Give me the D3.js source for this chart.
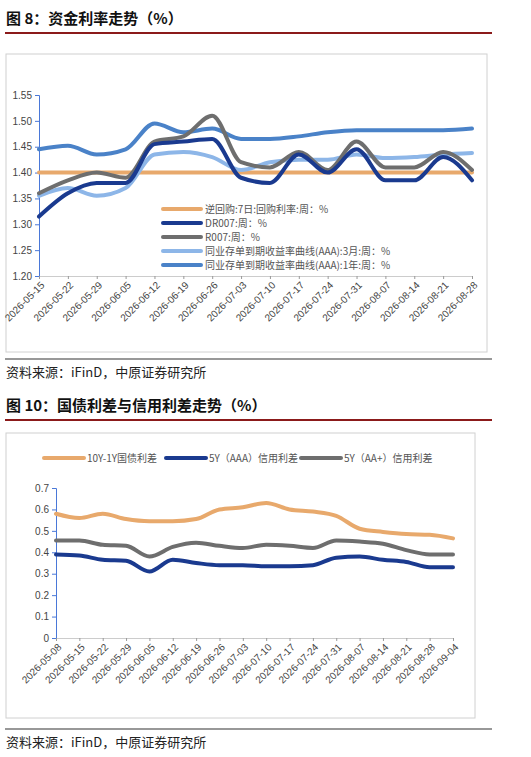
<!DOCTYPE html><html><head><meta charset="utf-8"><script src="https://cdn.jsdelivr.net/npm/d3@7"></script>
<style>body{margin:0;background:#fff;font-family:"Noto Sans CJK SC","Noto Sans",sans-serif}</style></head><body><svg id="s" width="531" height="757"></svg><script>
const dates1=["2026-05-15","2026-05-22","2026-05-29","2026-06-05","2026-06-12","2026-06-19","2026-06-26","2026-07-03","2026-07-10","2026-07-17","2026-07-24","2026-07-31","2026-08-07","2026-08-14","2026-08-21","2026-08-28"];
const revRepo=[1.40,1.40,1.40,1.40,1.40,1.40,1.40,1.40,1.40,1.40,1.40,1.40,1.40,1.40,1.40,1.40];
const dr007=[1.315,1.36,1.38,1.38,1.455,1.46,1.465,1.39,1.38,1.435,1.40,1.445,1.385,1.385,1.43,1.385];
const r007=[1.36,1.385,1.40,1.39,1.46,1.47,1.51,1.42,1.41,1.44,1.405,1.46,1.41,1.41,1.44,1.405];
const cd3m=[1.355,1.37,1.355,1.37,1.435,1.44,1.43,1.405,1.42,1.425,1.425,1.435,1.428,1.43,1.435,1.438];
const cd1y=[1.445,1.452,1.435,1.445,1.495,1.478,1.485,1.465,1.465,1.47,1.478,1.482,1.482,1.482,1.482,1.485];
const yTicks1=[1.20,1.25,1.30,1.35,1.40,1.45,1.50,1.55];
const names1=["逆回购:7日:回购利率:周：%","DR007:周：%","R007:周：%","同业存单到期收益率曲线(AAA):3月:周：%","同业存单到期收益率曲线(AAA):1年:周：%"];
const dates2=["2026-05-08","2026-05-15","2026-05-22","2026-05-29","2026-06-05","2026-06-12","2026-06-19","2026-06-26","2026-07-03","2026-07-10","2026-07-17","2026-07-24","2026-07-31","2026-08-07","2026-08-14","2026-08-21","2026-08-28","2026-09-04"];
const spread10y1y=[0.58,0.56,0.58,0.555,0.545,0.545,0.555,0.60,0.61,0.63,0.60,0.59,0.57,0.51,0.495,0.485,0.482,0.465];
const aaa5y=[0.39,0.385,0.365,0.36,0.31,0.365,0.35,0.34,0.34,0.335,0.335,0.34,0.375,0.38,0.365,0.355,0.33,0.33];
const aap5y=[0.455,0.455,0.435,0.43,0.38,0.425,0.445,0.43,0.42,0.435,0.43,0.42,0.455,0.45,0.44,0.41,0.39,0.39];
const yTicks2=[0,0.1,0.2,0.3,0.4,0.5,0.6,0.7];
const names2=["10Y-1Y国债利差","5Y（AAA）信用利差","5Y（AA+）信用利差"];
const svg=d3.select("#s");
function header(y,t){svg.append("text").attr("x",6).attr("y",y).attr("font-size",15).attr("font-weight","bold").attr("fill","#111").text(t);
svg.append("line").attr("x1",5).attr("x2",492).attr("y1",y+9).attr("y2",y+9).attr("stroke","#8b1a1a").attr("stroke-width",2);}
function source(y){svg.append("line").attr("x1",5).attr("x2",492).attr("y1",y-18).attr("y2",y-18).attr("stroke","#333").attr("stroke-width",1.2);
svg.append("text").attr("x",6).attr("y",y).attr("font-size",13).attr("fill","#222").text("资料来源：iFinD，中原证券研究所");}
header(24,"图 8：资金利率走势（%）");
header(411,"图 10：国债利差与信用利差走势（%）");
source(377);source(747);
svg.append("rect").attr("x",6).attr("y",54).attr("width",481).attr("height",298).attr("fill","none").attr("stroke","#d0d0d0");
svg.append("rect").attr("x",6).attr("y",433).attr("width",469).attr("height",285).attr("fill","none").attr("stroke","#d0d0d0");
function chart(o){
 const x=d3.scalePoint().domain(o.dates).range([o.x0,o.x1]);
 const y=d3.scaleLinear().domain(o.yd).range([o.y1,o.y0]);
 const ya=svg.append("g").attr("transform",`translate(${o.x0},0)`).call(d3.axisLeft(y).tickValues(o.yt).tickFormat(o.fmt).tickSize(4));
 ya.select(".domain").attr("stroke","#4a78d8");ya.selectAll("line").attr("stroke","#4a78d8");
 ya.selectAll("text").attr("font-size",10).attr("fill","#444").attr("font-family","Liberation Sans,sans-serif");
 const xa=svg.append("g").attr("transform",`translate(0,${o.y1})`).call(d3.axisBottom(x).tickSize(3));
 xa.select(".domain").attr("stroke","#ccc");xa.selectAll("line").attr("stroke","#999");
 xa.selectAll("text").attr("font-size",10).attr("fill","#444").attr("font-family","Liberation Sans,sans-serif").attr("text-anchor","end").attr("transform","rotate(-45)").attr("dx","-0.3em").attr("dy","0.5em");
 const line=d3.line().x((d,i)=>x(o.dates[i])).y(d=>y(d)).curve(d3.curveMonotoneX);
 o.series.forEach((s,k)=>svg.append("path").attr("d",line(s)).attr("fill","none").attr("stroke",o.colors[k]).attr("stroke-width",4).attr("stroke-linecap","round"));
}
const c1=["#e8a96c","#1a3a8f","#6e6e6e","#8db6e8","#4a82c8"];
chart({dates:dates1,x0:39,x1:472,y0:95,y1:276,yd:[1.2,1.55],yt:yTicks1,fmt:d3.format(".2f"),series:[revRepo,cd3m,cd1y,r007,dr007],colors:[c1[0],c1[3],c1[4],c1[2],c1[1]]});
names1.forEach((n,i)=>{const yy=209+i*14;svg.append("line").attr("x1",163).attr("x2",201).attr("y1",yy).attr("y2",yy).attr("stroke",c1[i]).attr("stroke-width",4).attr("stroke-linecap","round");
svg.append("text").attr("x",205).attr("y",yy+4).attr("font-size",10).attr("fill","#555").text(n);});
const c2=["#e8a96c","#1a3a8f","#6e6e6e"];
chart({dates:dates2,x0:56,x1:453,y0:488,y1:638,yd:[0,0.7],yt:yTicks2,fmt:d3.format("~g"),series:[spread10y1y,aap5y,aaa5y],colors:[c2[0],c2[2],c2[1]]});
[[44,names2[0]],[166,names2[1]],[301,names2[2]]].forEach(([xx,n],i)=>{svg.append("line").attr("x1",xx).attr("x2",xx+40).attr("y1",458).attr("y2",458).attr("stroke",c2[i]).attr("stroke-width",4).attr("stroke-linecap","round");
svg.append("text").attr("x",xx+43).attr("y",462).attr("font-size",10).attr("fill","#555").text(n);});
</script></body></html>
